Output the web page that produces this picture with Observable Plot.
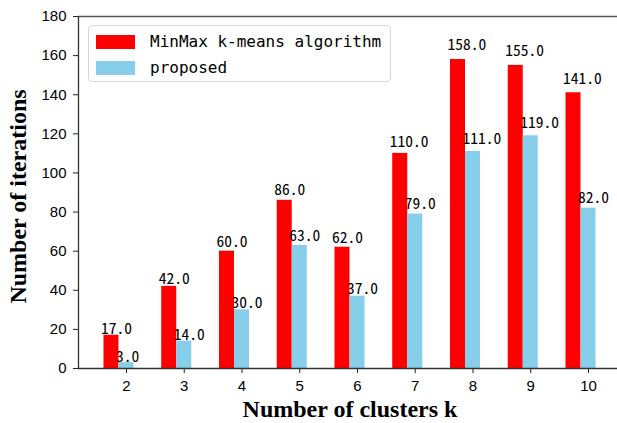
<!DOCTYPE html>
<html>
<head>
<meta charset="utf-8">
<script src="https://cdn.jsdelivr.net/npm/d3@7"></script>
<script src="https://cdn.jsdelivr.net/npm/@observablehq/plot@0.6"></script>
<style>
  body { margin: 0; background: #fff; }
  #wrap { position: relative; width: 617px; height: 423px; }
  #legend {
    position: absolute; left: 88px; top: 25px; width: 301px; height: 55px;
    border: 1px solid #d6d6d6; border-radius: 4px; background: rgba(255,255,255,0.8);
    font-family: "DejaVu Sans Mono", monospace; font-size: 16px; color: #000;
  }
  .item { position: absolute; left: 7px; display: flex; align-items: center; }
  .sw { width: 39px; height: 14px; margin-right: 15px; }
</style>
</head>
<body>
<div id="wrap"></div>
<script>
const clusters = [2, 3, 4, 5, 6, 7, 8, 9, 10];
const minmaxValues = [17, 42, 60, 86, 62, 110, 158, 155, 141];
const proposedValues = [3, 14, 30, 63, 37, 79, 111, 119, 82];
const seriesNames = ["MinMax k-means algorithm", "proposed"];
const seriesColors = ["#ff0000", "#87ceeb"];
const yTicks = [0, 20, 40, 60, 80, 100, 120, 140, 160, 180];
const xTicks = clusters;

const barW = 0.26;
const rows = [];
clusters.forEach((k, i) => {
  rows.push({k, value: minmaxValues[i], series: seriesNames[0], x1: k - 1.5 * barW, x2: k - 0.5 * barW, xc: k - barW});
  rows.push({k, value: proposedValues[i], series: seriesNames[1], x1: k - 0.5 * barW, x2: k + 0.5 * barW, xc: k});
});

const tickFont = "'Liberation Sans', Arial, sans-serif";
const chart = Plot.plot({
  width: 617,
  height: 423,
  marginLeft: 78,
  marginRight: 0,
  marginTop: 16,
  marginBottom: 55,
  style: {fontFamily: tickFont, fontSize: "15px", color: "#000", background: "#fff"},
  x: {type: "linear", domain: [1.169, 10.502]},
  y: {domain: [0, 180]},
  color: {domain: seriesNames, range: seriesColors},
  marks: [
    Plot.rectY(rows, {x1: "x1", x2: "x2", y1: 0, y2: "value", fill: "series"}),
    Plot.text(rows, {
      x: "xc", y: d => d.value * 1.032, text: d => d.value.toFixed(1),
      textAnchor: "start", lineAnchor: "bottom", dx: -10.5,
      fontFamily: "'Noto Sans Mono CJK SC', 'DejaVu Sans Mono', monospace", fontSize: 15.5, fill: "#000"
    }),
    Plot.axisY({ticks: yTicks, tickSize: 5, tickPadding: 7, label: null, stroke: "#222", fill: "#000", fontSize: 15, fontFamily: tickFont}),
    Plot.axisX({ticks: xTicks, tickSize: 5, tickPadding: 7, label: null, tickFormat: d => String(d), stroke: "#222", fill: "#000", fontSize: 15, fontFamily: tickFont}),
    Plot.ruleY([0], {stroke: "#333", strokeWidth: 1.3}),
    Plot.ruleY([180], {stroke: "#555", strokeWidth: 1.3}),
    Plot.ruleX([1.169], {stroke: "#333", strokeWidth: 1.3}),
    Plot.text(["Number of clusters k"], {
      frameAnchor: "bottom", textAnchor: "middle", dx: 2, dy: 48, lineAnchor: "bottom",
      fontFamily: "'Liberation Serif', 'Times New Roman', serif", fontWeight: "bold", fontSize: 24, fill: "#000"
    }),
    Plot.text(["Number of iterations"], {
      frameAnchor: "left", textAnchor: "middle", dx: -53, dy: 4, rotate: -90, lineAnchor: "bottom",
      fontFamily: "'Liberation Serif', 'Times New Roman', serif", fontWeight: "bold", fontSize: 24, fill: "#000"
    })
  ]
});

const wrap = document.getElementById("wrap");
wrap.appendChild(chart);
const legend = document.createElement("div");
legend.id = "legend";
seriesNames.forEach((name, i) => {
  const item = document.createElement("div");
  item.className = "item";
  item.style.top = (i === 0 ? 6 : 32) + "px";
  const sw = document.createElement("div");
  sw.className = "sw";
  sw.style.background = seriesColors[i];
  const label = document.createElement("span");
  label.textContent = name;
  item.appendChild(sw);
  item.appendChild(label);
  legend.appendChild(item);
});
wrap.appendChild(legend);
</script>
</body>
</html>
